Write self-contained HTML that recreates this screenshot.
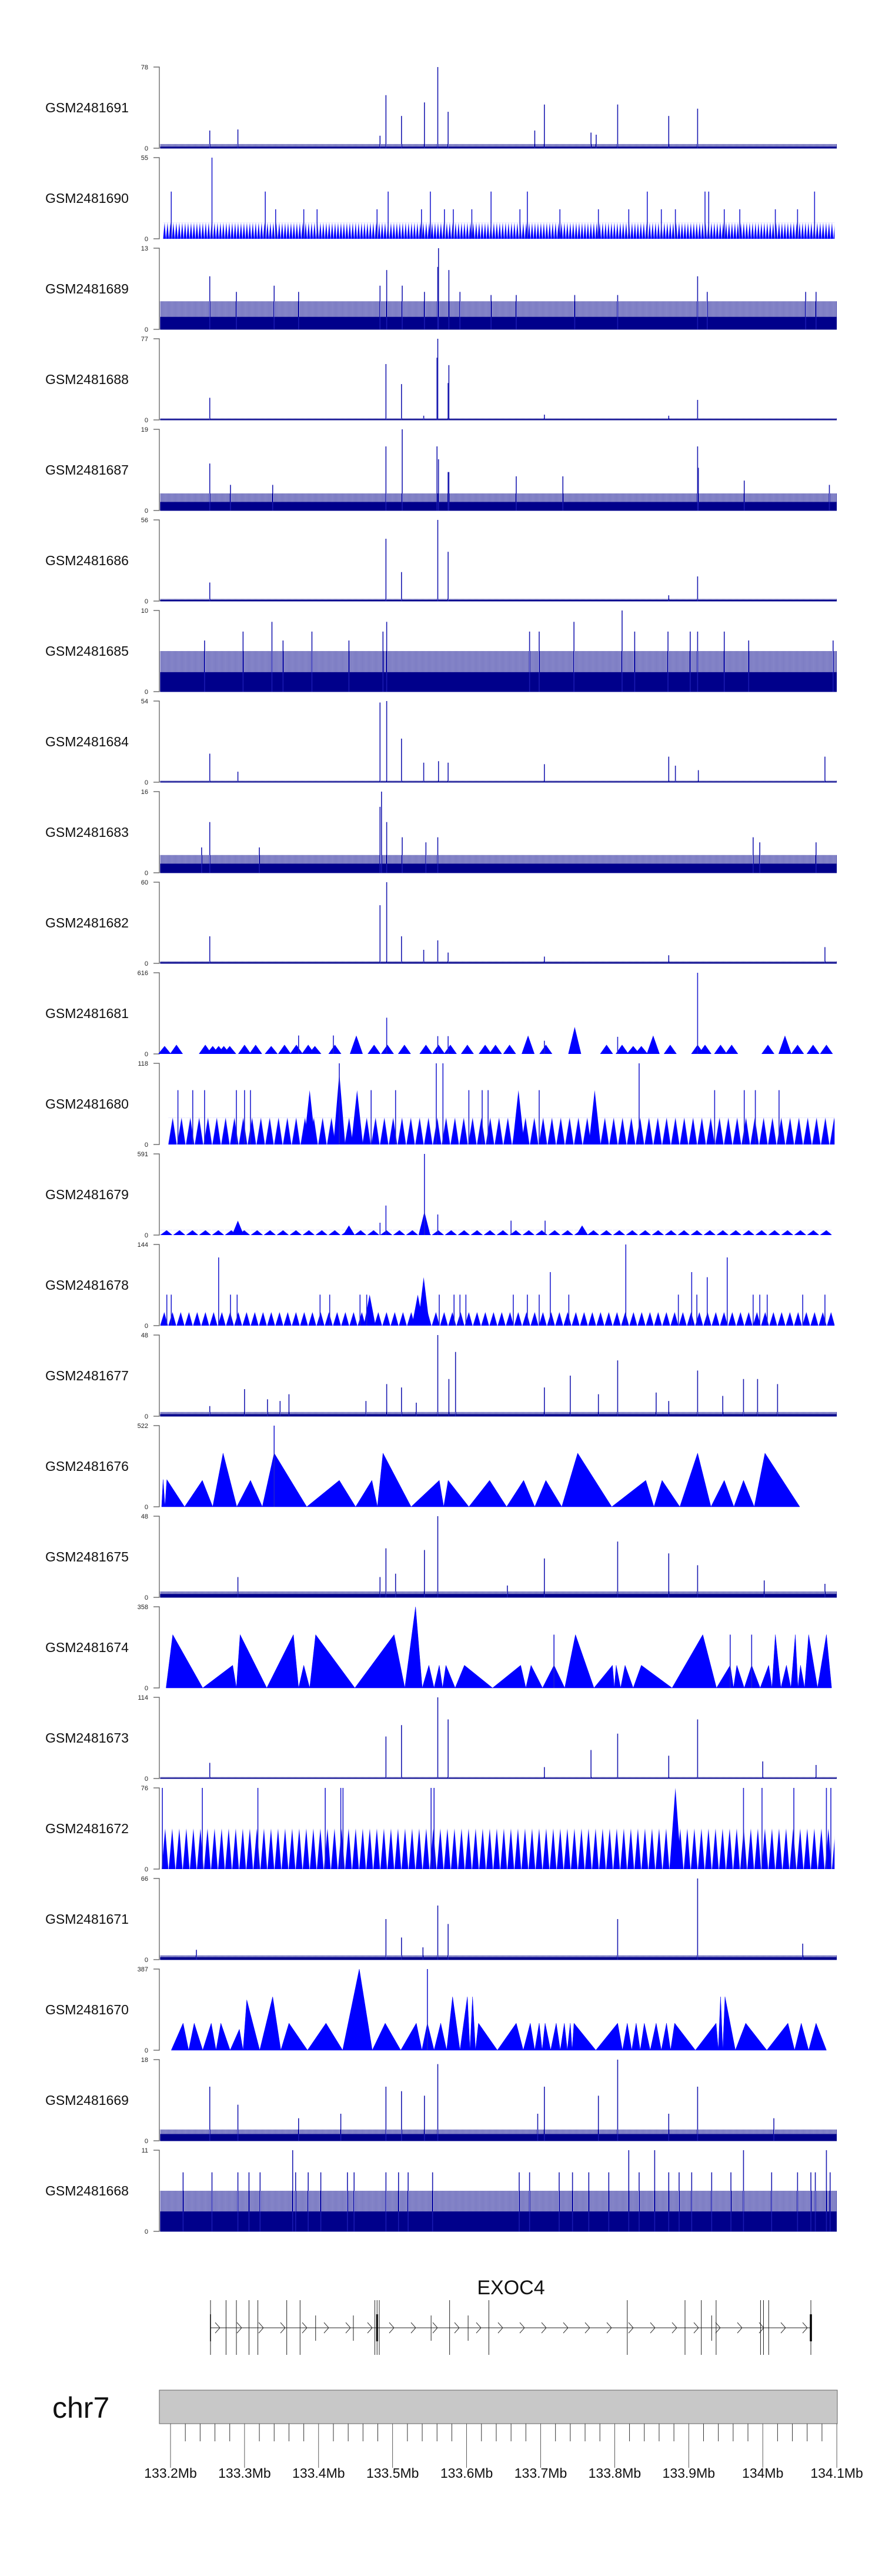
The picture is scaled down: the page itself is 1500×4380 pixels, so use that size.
<!DOCTYPE html>
<html><head><meta charset="utf-8"><style>
html,body{margin:0;padding:0;background:#fff}
svg{display:block}
text{font-family:"Liberation Sans",sans-serif}
</style></head><body>
<svg id="chart" width="1500" height="4380" viewBox="0 0 1500 4380" xmlns="http://www.w3.org/2000/svg">
<defs id="defs"></defs>
<g id="tracks"></g>
<g id="gene"></g>
<g id="ideo"></g>
</svg>
<script>
const trackNames=["GSM2481691","GSM2481690","GSM2481689","GSM2481688","GSM2481687","GSM2481686","GSM2481685","GSM2481684","GSM2481683","GSM2481682","GSM2481681","GSM2481680","GSM2481679","GSM2481678","GSM2481677","GSM2481676","GSM2481675","GSM2481674","GSM2481673","GSM2481672","GSM2481671","GSM2481670","GSM2481669","GSM2481668"];
const trackMax=[78,55,13,77,19,56,10,54,16,60,616,118,591,144,48,522,48,358,114,76,66,387,18,11];
const trackKind=["line","tri","line","line","line","line","line","line","line","line","narrow","tri","tri","tri","line","wide","line","wide","line","tri","line","wide","line","line"];
const trackBase=[1.5,0,2,0.8,2,0.8,2.4,0.5,1.8,0.8,0,0,0,0,1.2,0,2,0,1,0,2,0,1.5,2.7];
const trackBand=[4,11,4.5,1.5,4,1.5,5,1,3.5,1.5,0,39,35,24,2.5,0,3.5,0,2,38,3.5,0,2.5,5.5];
const trackStart=[133.186,133.190,133.186,133.186,133.186,133.186,133.186,133.186,133.186,133.186,133.186,133.197,133.186,133.186,133.186,133.188,133.186,133.194,133.186,133.188,133.186,133.201,133.186,133.186];
const trackEnd=[134.1,134.097,134.1,134.1,134.1,134.1,134.1,134.1,134.1,134.1,134.1,134.097,134.093,134.097,134.1,134.050,134.1,134.093,134.1,134.097,134.1,134.086,134.1,134.1];

const s1691x=[133.253,133.291,133.483,133.491,133.512,133.543,133.561,133.575,133.692,133.705,133.768,133.775,133.804,133.873,133.912];
const s1691y=[17,18,12,51,31,44,78,35,17,42,15,13,42,31,38];
const s1690x=[133.201,133.256,133.328,133.342,133.380,133.398,133.479,133.494,133.539,133.551,133.570,133.582,133.607,133.633,133.672,133.682,133.726,133.778,133.819,133.844,133.863,133.882,133.922,133.927,133.948,133.969,134.017,134.047,134.070];
const s1690y=[32,55,32,20,20,20,20,32,20,32,20,20,20,32,20,32,20,20,20,32,20,20,32,32,20,20,20,20,32];
const s1689x=[133.253,133.289,133.340,133.373,133.483,133.492,133.513,133.543,133.561,133.562,133.576,133.591,133.633,133.667,133.746,133.804,133.912,133.925,134.058,134.072];
const s1689y=[8.5,6,7,6,7,9.5,7,6,10,13,9.5,6,5.5,5.5,5.5,5.5,8.5,6,6,6];
const s1688x=[133.253,133.491,133.512,133.542,133.560,133.561,133.575,133.576,133.705,133.912,133.873];
const s1688y=[21,53,34,4,59,77,35,52,5,19,4];
const s1687x=[133.253,133.281,133.338,133.491,133.513,133.560,133.562,133.575,133.576,133.667,133.730,133.912,133.913,133.975,134.090];
const s1687y=[11,6,6,15,19,15,12,9,9,8,8,15,10,7,6];
const s1686x=[133.253,133.491,133.512,133.561,133.575,133.873,133.912];
const s1686y=[12.8,43,20,56,34,4,17];
const s1685x=[133.246,133.298,133.337,133.352,133.391,133.441,133.487,133.492,133.685,133.698,133.745,133.810,133.827,133.872,133.902,133.912,133.948,133.981,134.095];
const s1685y=[6.3,7.4,8.6,6.3,7.4,6.3,7.4,8.6,7.4,7.4,8.6,10,7.4,7.4,7.4,7.4,7.4,6.3,6.3];
const s1684x=[133.253,133.291,133.483,133.492,133.512,133.542,133.562,133.575,133.705,133.873,133.882,133.913,134.084];
const s1684y=[19,7,53,54,29,13,14,13,12,17,11,8,17];
const s1683x=[133.253,133.483,133.485,133.492,133.513,133.545,133.561,133.987,133.996,134.072,133.242,133.320];
const s1683y=[10,13,16,10,7,6,7,7,6,6,5,5];
const s1682x=[133.253,133.483,133.492,133.512,133.542,133.561,133.575,133.705,133.873,134.084];
const s1682y=[20,43,60,20,10,17,8,5,6,12];
const s1681x=[133.373,133.420,133.492,133.561,133.575,133.705,133.804,133.912];
const s1681y=[140,140,275,135,135,100,130,616];
const s1680x=[133.210,133.230,133.246,133.289,133.300,133.308,133.428,133.471,133.504,133.559,133.568,133.603,133.621,133.629,133.698,133.833,133.935,133.975,133.990,134.022];
const s1680y=[79,79,79,79,79,79,118,79,79,118,118,79,79,79,79,118,79,79,79,79];
const s1679x=[133.491,133.543,133.561,133.660,133.706,133.483];
const s1679y=[215,591,150,105,105,90];
const s1678x=[133.195,133.201,133.265,133.281,133.290,133.402,133.415,133.456,133.465,133.563,133.583,133.591,133.599,133.663,133.682,133.698,133.713,133.738,133.815,133.886,133.904,133.911,133.925,133.952,133.987,133.996,134.006,134.054,134.084];
const s1678y=[55,55,121,55,55,55,55,55,55,55,55,55,55,55,55,55,95,55,144,55,95,55,86,121,55,55,55,55,55];
const s1677x=[133.253,133.300,133.331,133.348,133.360,133.464,133.492,133.512,133.532,133.561,133.576,133.585,133.705,133.740,133.778,133.804,133.856,133.873,133.912,133.946,133.974,133.993,134.020];
const s1677y=[6,16,10,9,13,9,19,17,8,48,22,38,17,24,13,33,14,9,27,12,22,22,19];
const s1676x=[133.340];
const s1676y=[522];
const s1675x=[133.291,133.483,133.491,133.504,133.543,133.561,133.655,133.705,133.804,133.873,133.912,134.002,134.084];
const s1675y=[12,12,29,14,28,48,7,23,33,26,19,10,8];
const s1674x=[133.718,133.956,133.985];
const s1674y=[235,235,235];
const s1673x=[133.253,133.491,133.512,133.561,133.575,133.705,133.768,133.804,133.873,133.912,134.000,134.072];
const s1673y=[22,59,75,114,83,16,40,63,32,83,24,19];
const s1672x=[133.189,133.243,133.318,133.409,133.430,133.433,133.552,133.556,133.974,133.999,134.042,134.086,134.092];
const s1672y=[76,76,76,76,76,76,76,76,76,76,76,76,76];
const s1671x=[133.491,133.512,133.541,133.561,133.575,133.804,133.912,134.054,133.235];
const s1671y=[33,18,10,44,29,33,66,13,8];
const s1670x=[133.547];
const s1670y=[387];
const s1669x=[133.253,133.291,133.373,133.430,133.491,133.512,133.543,133.561,133.696,133.705,133.778,133.804,133.873,133.912,134.015];
const s1669y=[12,8,5,6,12,11,10,17,6,12,10,18,6,12,5];
const s1668x=[133.217,133.256,133.291,133.306,133.321,133.365,133.369,133.386,133.403,133.439,133.448,133.491,133.508,133.521,133.554,133.671,133.685,133.725,133.743,133.765,133.792,133.819,133.833,133.854,133.873,133.887,133.904,133.931,133.957,133.974,134.012,134.047,134.065,134.071,134.086,134.091];
const s1668y=[8,8,8,8,8,11,8,8,8,8,8,8,8,8,8,8,8,8,8,8,8,11,8,11,8,8,8,8,8,11,8,8,8,8,11,8];

const p1681x=[133.192,133.208,133.247,133.257,133.265,133.272,133.280,133.300,133.315,133.336,133.354,133.370,133.386,133.395,133.422,133.451,133.475,133.493,133.516,133.545,133.562,133.578,133.601,133.625,133.639,133.658,133.683,133.707,133.746,133.789,133.810,133.825,133.836,133.852,133.875,133.912,133.922,133.943,133.958,134.007,134.030,134.047,134.068,134.086];
const p1681y=[60,70,70,60,60,60,60,70,70,60,70,70,70,60,70,140,70,70,70,70,70,70,70,70,70,70,140,70,205,70,70,60,60,140,70,70,70,70,70,70,140,70,70,70];
const p1680x=[133.388,133.428,133.452,133.670,133.773];
const p1680y=[79,104,79,79,79];
const p1679x=[133.291,133.441,133.543,133.756];
const p1679y=[105,70,170,70];
const p1678x=[133.469,133.534,133.542];
const p1678y=[55,55,86];
const p1676x=[133.190,133.195,133.243,133.271,133.308,133.340,133.428,133.472,133.487,133.563,133.575,133.631,133.677,133.707,133.750,133.842,133.864,133.912,133.948,133.974,134.003];
const p1676y=[175,175,170,345,170,345,170,170,345,170,170,170,170,170,345,170,170,345,170,170,345];
const p1674x=[133.203,133.284,133.294,133.366,133.380,133.396,133.502,133.531,133.549,133.563,133.572,133.597,133.673,133.687,133.718,133.747,133.797,133.802,133.814,133.836,133.919,133.956,133.965,133.985,134.008,134.017,134.032,134.044,134.051,134.062,134.086];
const p1674y=[235,100,235,235,100,235,235,358,100,100,100,100,100,100,100,235,100,100,100,100,235,100,100,100,100,235,100,235,100,235,235];
const p1672x=[133.882];
const p1672y=[76];
const p1670x=[133.217,133.232,133.255,133.268,133.293,133.303,133.338,133.360,133.410,133.455,133.490,133.532,133.547,133.565,133.581,133.601,133.608,133.616,133.667,133.686,133.698,133.706,133.721,133.732,133.740,133.745,133.804,133.817,133.829,133.840,133.856,133.870,133.881,133.937,133.943,133.949,133.977,134.034,134.052,134.072];
const p1670y=[129,129,129,129,100,240,255,129,129,387,129,129,129,129,255,255,255,129,129,129,129,129,129,129,129,129,129,129,129,129,129,129,129,129,255,255,129,129,129,129];

const exonX=[133.254,133.275,133.289,133.306,133.318,133.357,133.375,133.396,133.447,133.476,133.479,133.482,133.552,133.577,133.602,133.630,133.817,133.895,133.917,133.931,133.937,133.997,134.001,134.008,134.065];
const exonTall=[1,1,1,1,1,1,1,0,0,1,1,1,0,1,0,1,1,1,1,0,1,1,1,1,1];
const geneStart=133.254, geneEnd=134.065;

const spikesX={"1691":s1691x,"1690":s1690x,"1689":s1689x,"1688":s1688x,"1687":s1687x,"1686":s1686x,"1685":s1685x,"1684":s1684x,"1683":s1683x,"1682":s1682x,"1681":s1681x,"1680":s1680x,"1679":s1679x,"1678":s1678x,"1677":s1677x,"1676":s1676x,"1675":s1675x,"1674":s1674x,"1673":s1673x,"1672":s1672x,"1671":s1671x,"1670":s1670x,"1669":s1669x,"1668":s1668x};
const spikesY={"1691":s1691y,"1690":s1690y,"1689":s1689y,"1688":s1688y,"1687":s1687y,"1686":s1686y,"1685":s1685y,"1684":s1684y,"1683":s1683y,"1682":s1682y,"1681":s1681y,"1680":s1680y,"1679":s1679y,"1678":s1678y,"1677":s1677y,"1676":s1676y,"1675":s1675y,"1674":s1674y,"1673":s1673y,"1672":s1672y,"1671":s1671y,"1670":s1670y,"1669":s1669y,"1668":s1668y};
const peaksX={"1681":p1681x,"1680":p1680x,"1679":p1679x,"1678":p1678x,"1676":p1676x,"1674":p1674x,"1672":p1672x,"1670":p1670x};
const peaksY={"1681":p1681y,"1680":p1680y,"1679":p1679y,"1678":p1678y,"1676":p1676y,"1674":p1674y,"1672":p1672y,"1670":p1670y};

const NS="http://www.w3.org/2000/svg";
function mk(tag,attrs,parent){const e=document.createElementNS(NS,tag);for(const k in attrs)e.setAttribute(k,attrs[k]);parent.appendChild(e);return e;}
function X(mb){return 290+(mb-133.2)*1259;}
const TOP0=114,PITCH=154,TH=138,AXX=271;
const periodMap={"1690":5,"1680":15,"1679":22,"1678":14,"1672":12};
const defs=document.getElementById('defs');
const gT=document.getElementById('tracks');

trackNames.forEach((nm,i)=>{
  const id=nm.slice(6);
  const top=TOP0+i*PITCH, bot=top+TH, max=trackMax[i];
  const Y=v=>bot-(v/max)*TH;
  const g=mk('g',{},gT);
  
  
  const lab=mk('text',{x:77,y:top+TH/2+8,'font-size':23,fill:'#111'},g);
  lab.textContent=nm;
  
  
  const ax=mk('path',{d:`M${AXX-10},${top}H${AXX}V${bot}H${AXX-10}`,stroke:'#555','stroke-width':1.2,fill:'none'},g);
  
  
  const t1=mk('text',{x:252,y:top+4,'font-size':11,'text-anchor':'end',fill:'#222'},g);t1.textContent=max;
  
  
  const t0=mk('text',{x:252,y:bot+4,'font-size':11,'text-anchor':'end',fill:'#222'},g);t0.textContent='0';
  
  
  const x0=X(trackStart[i]), x1=X(trackEnd[i]);
  const kind=trackKind[i];
  if(kind==='line'){
    if(trackBand[i]>0){
      const pid='st'+id;
      const pat=mk('pattern',{id:pid,patternUnits:'userSpaceOnUse',width:2,height:10},defs);
      mk('rect',{x:0,y:0,width:1.1,height:10,fill:'#00008b'},pat);
      const b=mk('rect',{x:x0,y:Y(trackBand[i]),width:x1-x0,height:Y(0)-Y(trackBand[i]),fill:`url(#${pid})`,opacity:0.9},g);
      
      
    }
    const r=mk('rect',{x:x0,y:Y(trackBase[i]),width:x1-x0,height:Y(0)-Y(trackBase[i])+0.5,fill:'#00008b'},g);
    
    
  }
  if(kind==='tri' && trackBand[i]>0){
    const per=periodMap[id]||12;
    const pid='tp'+id, by=Y(trackBand[i]), hh=Y(0)-by;
    const pat=mk('pattern',{id:pid,patternUnits:'userSpaceOnUse',x:x0,y:by,width:per,height:hh},defs);
    mk('path',{d:`M0,${hh}L${per*0.5},0L${per*0.95},${hh}Z`,fill:'#0000ff'},pat);
    const b=mk('rect',{x:x0,y:by,width:x1-x0,height:hh,fill:`url(#${pid})`},g);
    
    
  }
  const px=peaksX[id], py=peaksY[id];
  if(px){
    if(kind==='wide'){
      let d=`M${x0},${Y(0)}`;
      px.forEach((p,k)=>{
        d+=`L${X(p)},${Y(py[k])}`;
        if(k<px.length-1) d+=`L${(X(p)+X(px[k+1]))/2},${Y(0)}`;
      });
      d+=`L${x1},${Y(0)}Z`;
      const a=mk('path',{d:d,fill:'#0000ff',stroke:'#0000ff','stroke-width':0.5},g);
      
      
    } else {
      const hw=kind==='narrow'?11:10;
      px.forEach((p,k)=>{
        const tri=mk('path',{d:`M${X(p)-hw},${Y(0)}L${X(p)},${Y(py[k])}L${X(p)+hw},${Y(0)}Z`,fill:'#0000ff'},g);
        
        
      });
    }
  }
  const sx=spikesX[id], sy=spikesY[id];
  sx.forEach((p,k)=>{
    const l=mk('line',{x1:X(p),x2:X(p),y1:Y(0),y2:Y(sy[k]),stroke:kind==='line'?'#1a1ab0':'#2020d0','stroke-width':1.6},g);
    
    
  });
});

const gG=document.getElementById('gene');
const gl=mk('text',{x:869,y:3901,'font-size':34,'text-anchor':'middle',fill:'#111'},gG);gl.textContent='EXOC4';


const LY=3958;
const bb=mk('line',{x1:X(geneStart),x2:X(geneEnd),y1:LY,y2:LY,stroke:'#222','stroke-width':1},gG);


for(let x=X(geneStart)+12;x<X(geneEnd)-8;x+=37){
  const c=mk('path',{d:`M${x-4},${LY-9}L${x+4},${LY}L${x-4},${LY+9}`,stroke:'#333','stroke-width':1,fill:'none'},gG);
  
  
}
exonX.forEach((p,k)=>{
  const e=mk('line',{x1:X(p),x2:X(p),y1:exonTall[k]?3911:3937,y2:exonTall[k]?4004:3980,stroke:'#222','stroke-width':1},gG);
  
  
});
[[geneStart,1.5],[133.479,3],[geneEnd,3.5]].forEach(a=>{
  const e=mk('rect',{x:X(a[0])-a[1]/2,y:3935,width:a[1],height:46,fill:'#000'},gG);
  
  
});

const gI=document.getElementById('ideo');
const cl=mk('text',{x:89,y:4111,'font-size':50,fill:'#111'},gI);cl.textContent='chr7';


const box=mk('rect',{x:271,y:4064,width:1153,height:57,fill:'#c8c8c8',stroke:'#777','stroke-width':1.2},gI);


const majors=[133.2,133.3,133.4,133.5,133.6,133.7,133.8,133.9,134.0,134.1];
const majorLabels=["133.2Mb","133.3Mb","133.4Mb","133.5Mb","133.6Mb","133.7Mb","133.8Mb","133.9Mb","134Mb","134.1Mb"];
for(let k=0;k<=45;k++){
  const mb=133.2+k*0.02;
  const major=k%5===0;
  const t=mk('line',{x1:X(mb),x2:X(mb),y1:4121,y2:major?4196:4151,stroke:'#333','stroke-width':major?0.8:1},gI);
  
  
}
majors.forEach((m,k)=>{
  const t=mk('text',{x:X(m),y:4213,'font-size':23,'text-anchor':'middle',fill:'#111'},gI);
  t.textContent=majorLabels[k];
  
  
});
</script>
</body></html>
